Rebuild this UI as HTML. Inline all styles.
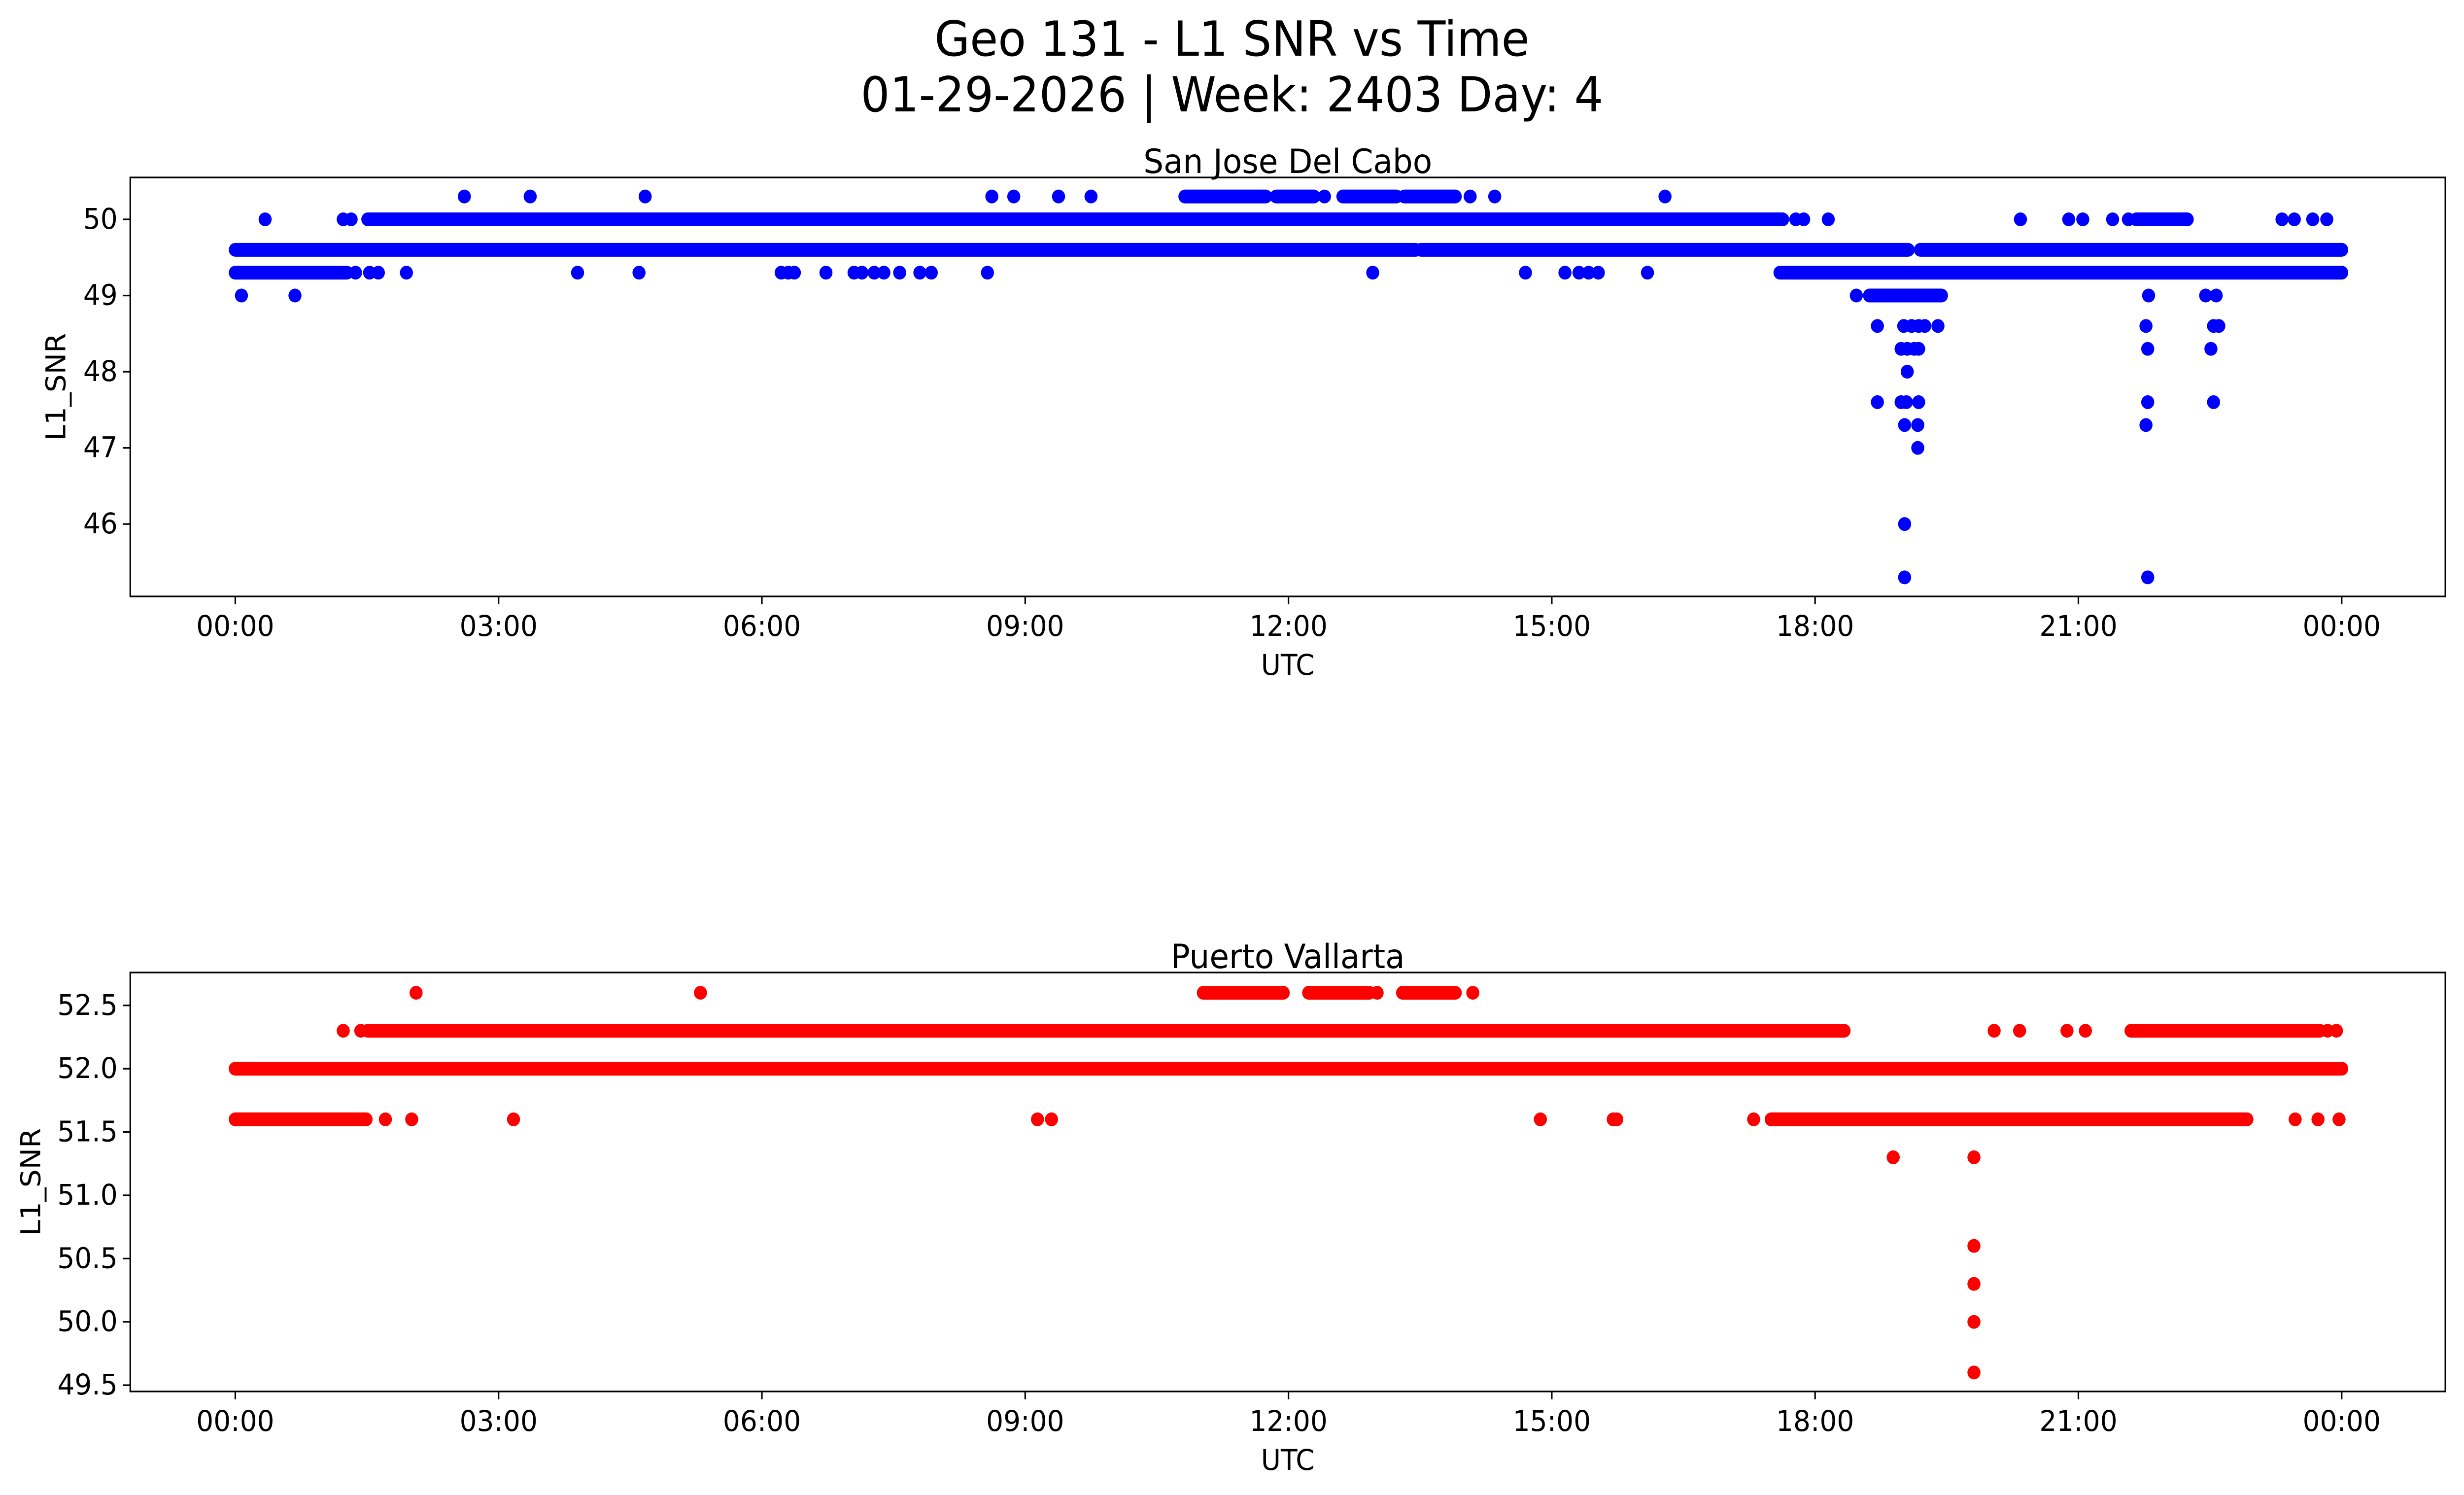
<!DOCTYPE html>
<html><head><meta charset="utf-8"><style>
html,body{margin:0;padding:0;background:#fff;width:100%;height:100%;overflow:hidden}
svg{display:block;width:100vw;height:100vh;font-family:"DejaVu Sans","Liberation Sans",sans-serif}
</style></head><body>
<svg id="fig" viewBox="0 0 5278 3033" preserveAspectRatio="none" xmlns="http://www.w3.org/2000/svg">
<rect width="5278" height="3033" fill="#fff"/>
<text x="2639" y="79" font-size="98" text-anchor="middle" dominant-baseline="central">Geo 131 - L1 SNR vs Time</text>
<text x="2639" y="192" font-size="98" text-anchor="middle" dominant-baseline="central">01-29-2026 | Week: 2403 Day: 4</text>
<g id="top"></g>
<g id="bot"></g>
</svg>
<script>
// ---- Top chart data (San Jose Del Cabo) ----
var topRunLevels = [49.6, 49.6, 49.6, 49.3, 49.3, 50.0, 50.3, 50.3, 50.3, 50.3, 50.0, 49.0];
var topRunStart  = [0.0, 13.51, 19.2, 0.0, 17.6, 1.51, 10.82, 11.86, 12.62, 13.32, 21.66, 18.62];
var topRunEnd    = [13.45, 19.06, 24.0, 1.27, 24.0, 17.63, 11.74, 12.29, 13.23, 13.9, 22.24, 19.44];
var topPointTimes = [
 2.61,3.36,4.67,8.62,8.87,9.38,9.75,12.41,14.07,14.35,16.29,
 0.34,1.23,1.32,17.78,17.87,18.15,20.34,20.89,21.05,21.39,21.57,23.32,23.46,23.67,23.83,
 1.37,1.53,1.63,1.95,3.9,4.6,6.22,6.3,6.37,6.73,7.05,7.14,7.28,7.39,7.57,7.8,7.93,8.57,12.96,14.7,15.15,15.31,15.42,15.53,16.09,
 0.07,0.68,18.47,21.8,22.45,22.57,
 18.71,19.01,19.1,19.18,19.25,19.4,21.77,22.54,22.6,
 18.98,19.05,19.13,19.18,21.79,22.51,
 19.05,
 18.71,18.98,19.04,19.18,21.79,22.54,
 19.02,19.17,21.77,
 19.17,
 19.02,
 19.02,21.79];
var topPointValues = [
 50.3,50.3,50.3,50.3,50.3,50.3,50.3,50.3,50.3,50.3,50.3,
 50.0,50.0,50.0,50.0,50.0,50.0,50.0,50.0,50.0,50.0,50.0,50.0,50.0,50.0,50.0,
 49.3,49.3,49.3,49.3,49.3,49.3,49.3,49.3,49.3,49.3,49.3,49.3,49.3,49.3,49.3,49.3,49.3,49.3,49.3,49.3,49.3,49.3,49.3,49.3,49.3,
 49.0,49.0,49.0,49.0,49.0,49.0,
 48.6,48.6,48.6,48.6,48.6,48.6,48.6,48.6,48.6,
 48.3,48.3,48.3,48.3,48.3,48.3,
 48.0,
 47.6,47.6,47.6,47.6,47.6,47.6,
 47.3,47.3,47.3,
 47.0,
 46.0,
 45.3,45.3];
var topYTicks = [46, 47, 48, 49, 50];

// ---- Bottom chart data (Puerto Vallarta) ----
var botRunLevels = [52.0, 52.3, 52.3, 51.6, 51.6, 52.6, 52.6, 52.6];
var botRunStart  = [0.0, 1.51, 21.6, 0.0, 17.5, 11.03, 12.23, 13.3];
var botRunEnd    = [24.0, 18.33, 23.75, 1.49, 22.92, 11.94, 12.92, 13.9];
var botPointTimes = [
 1.23,1.43,20.04,20.33,20.87,21.08,23.84,23.94,
 1.71,2.01,3.17,9.14,9.3,14.87,15.7,15.74,17.3,23.47,23.73,23.97,
 2.06,5.3,13.01,14.1,
 18.89,19.81,
 19.81,19.81,19.81,19.81];
var botPointValues = [
 52.3,52.3,52.3,52.3,52.3,52.3,52.3,52.3,
 51.6,51.6,51.6,51.6,51.6,51.6,51.6,51.6,51.6,51.6,51.6,51.6,
 52.6,52.6,52.6,52.6,
 51.3,51.3,
 50.6,50.3,50.0,49.6];
var botYTicks = [49.5, 50.0, 50.5, 51.0, 51.5, 52.0, 52.5];

var xTickHours = [0, 3, 6, 9, 12, 15, 18, 21, 24];
var xTickLabels = ["00:00","03:00","06:00","09:00","12:00","15:00","18:00","21:00","00:00"];

var NS = "http://www.w3.org/2000/svg";
function mk(tag, attrs, parent){ var e=document.createElementNS(NS,tag); for(var k in attrs) e.setAttribute(k,attrs[k]); parent.appendChild(e); return e; }

function drawChart(g, cfg){
  var L=279, R=5238, T=cfg.top, B=cfg.bottom;
  var x0=504, pxPerHour=188;
  function xs(h){ return x0 + h*pxPerHour; }
  function ys(v){ return T + (cfg.ymax - v)/(cfg.ymax - cfg.ymin)*(B-T); }
  var r=14;
  var clip = mk('clipPath',{id:cfg.id+'-clip'},g);
  mk('rect',{x:L,y:T,width:R-L,height:B-T},clip);
  var marks = mk('g',{'clip-path':'url(#'+cfg.id+'-clip)'},g);
  
  
  for (var i=0;i<cfg.runLevels.length;i++){
    var ln = mk('line',{x1:xs(cfg.runStart[i]),x2:xs(cfg.runEnd[i]),y1:ys(cfg.runLevels[i]),y2:ys(cfg.runLevels[i]),stroke:cfg.color,'stroke-width':2*r,'stroke-linecap':'round'},marks);
    
    
  }
  for (var j=0;j<cfg.pts.length;j++){
    var c = mk('circle',{cx:xs(cfg.pts[j]),cy:ys(cfg.vals[j]),r:r,fill:cfg.color},marks);
    
    
  }
  var frame = mk('rect',{x:L,y:T,width:R-L,height:B-T,fill:'none',stroke:'#000','stroke-width':3.3},g);
  
  
  for (var k=0;k<xTickHours.length;k++){
    var xx=xs(xTickHours[k]);
    mk('line',{x1:xx,x2:xx,y1:B,y2:B+16,stroke:'#000','stroke-width':3.3},g);
    var t = mk('text',{x:xx,y:B+61,'font-size':58,'text-anchor':'middle','dominant-baseline':'central'},g);
    t.textContent = xTickLabels[k];
    
    
  }
  for (var m=0;m<cfg.yticks.length;m++){
    var yy=ys(cfg.yticks[m]);
    mk('line',{x1:L-16,x2:L,y1:yy,y2:yy,stroke:'#000','stroke-width':3.3},g);
    var ty = mk('text',{x:L-27,y:yy,'font-size':58,'text-anchor':'end','dominant-baseline':'central'},g);
    ty.textContent = cfg.ydec ? cfg.yticks[m].toFixed(1) : String(cfg.yticks[m]);
    
    
  }
  var xl = mk('text',{x:(L+R)/2,y:B+140,'font-size':58,'text-anchor':'middle','dominant-baseline':'central'},g);
  xl.textContent='UTC';
  
  
  var yl = mk('text',{x:0,y:0,'font-size':58,'text-anchor':'middle','dominant-baseline':'central',transform:'translate('+cfg.ylabelX+','+((T+B)/2)+') rotate(-90)'},g);
  yl.textContent='L1_SNR';
  
  
  var st = mk('text',{x:(L+R)/2,y:T-32,'font-size':68,'text-anchor':'middle','dominant-baseline':'central'},g);
  st.textContent=cfg.title;
  
  
}

drawChart(document.getElementById('top'),{id:'top',top:360,bottom:1210,ymin:45.05,ymax:50.55,color:'#0000ff',
  runLevels:topRunLevels,runStart:topRunStart,runEnd:topRunEnd,pts:topPointTimes,vals:topPointValues,
  yticks:topYTicks,ydec:false,ylabelX:121,title:'San Jose Del Cabo'});
drawChart(document.getElementById('bot'),{id:'bot',top:1973,bottom:2823,ymin:49.45,ymax:52.76,color:'#ff0000',
  runLevels:botRunLevels,runStart:botRunStart,runEnd:botRunEnd,pts:botPointTimes,vals:botPointValues,
  yticks:botYTicks,ydec:true,ylabelX:67,title:'Puerto Vallarta'});
</script>
</body></html>
